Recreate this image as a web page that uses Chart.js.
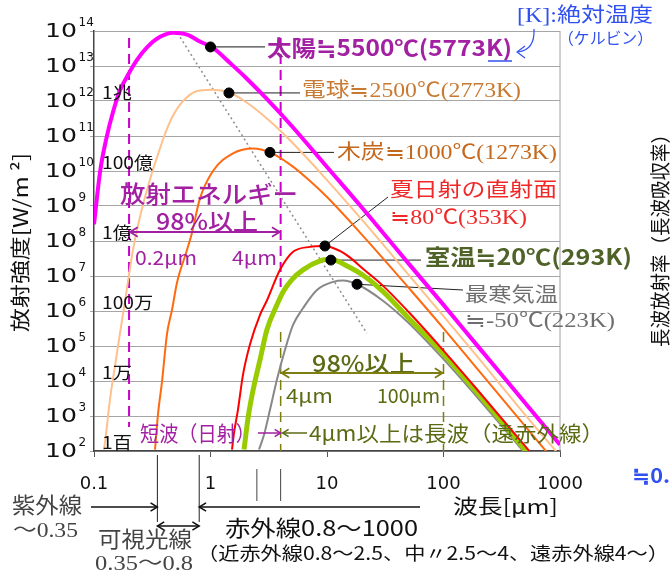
<!DOCTYPE html>
<html><head><meta charset="utf-8">
<script src="https://cdn.jsdelivr.net/npm/chart.js@4.4.1/dist/chart.umd.min.js"></script>
<style>html,body{margin:0;padding:0;background:#fff;}canvas{display:block;}</style>
</head><body>
<canvas id="c" width="670" height="570"></canvas>
<script>
// ---------------- data ----------------
const xTickValues = [0.1, 1, 10, 100, 1000];
const xTickLabels = ['0.1', '1', '10', '100', '1000'];
const yTickValues = [1e2, 1e3, 1e4, 1e5, 1e6, 1e7, 1e8, 1e9, 1e10, 1e11, 1e12, 1e13, 1e14];
const yTickExponents = ['2', '3', '4', '5', '6', '7', '8', '9', '10', '11', '12', '13', '14'];
const yWordValues = [1e12, 1e10, 1e8, 1e6, 1e4, 1e2];
const yWordLabels = ['1兆', '100億', '1億', '100万', '1万', '1百'];

const sunWavelength = [0.1, 0.113, 0.127, 0.146, 0.167, 0.196, 0.234, 0.285, 0.369, 0.477, 0.63, 0.81, 1.05, 1.5, 2, 3, 5, 10, 20, 50, 100, 200, 500, 1000];
const sunRadiance   = [3.0e8, 1.0e10, 7.9e10, 5.0e11, 2.0e12, 5.6e12, 1.5e13, 3.4e13, 6.8e13, 8.9e13, 7.9e13, 5.0e13, 3.3e13, 1.15e13, 4.7e12, 1.2e12, 1.9e11, 1.3e10, 8.9e8, 2.3e7, 1.5e6, 9.3e4, 2.4e3, 1.5e2];

const bulbWavelength = [0.122, 0.127, 0.137, 0.151, 0.167, 0.185, 0.216, 0.27, 0.39, 0.48, 0.63, 0.81, 1.05, 1.47, 2, 3, 5, 10, 20, 50, 100, 200, 500, 1000];
const bulbRadiance   = [1.1e2, 3.2e2, 2.9e3, 2.5e4, 2.3e5, 2.0e6, 5.5e7, 1.5e9, 7.8e10, 4.0e11, 1.3e12, 2.0e12, 2.1e12, 1.7e12, 9.5e11, 3.3e11, 6.6e10, 5.5e9, 4.0e8, 1.1e7, 7.1e5, 4.5e4, 1.1e3, 72];

const charcoalWavelength = [0.334, 0.354, 0.383, 0.424, 0.468, 0.515, 0.628, 0.693, 0.81, 1.05, 1.56, 2.32, 3.24, 5, 7, 10, 20, 50, 100, 200, 500, 1000];
const charcoalRadiance   = [1.1e2, 1.1e3, 9.3e3, 2.3e5, 1.1e6, 6.3e6, 5.5e7, 1.7e8, 1.6e9, 1.0e10, 3.2e10, 4.4e10, 3.4e10, 1.4e10, 5.5e9, 1.8e9, 1.5e8, 4.7e6, 3.2e5, 2.0e4, 5.2e2, 33];

const summerWavelength = [1.53, 1.59, 1.72, 1.90, 2.18, 2.66, 3.05, 3.95, 5.11, 7.14, 9.6, 12.9, 15.7, 20, 30, 50, 100, 200, 500, 1000];
const summerRadiance   = [1.1e2, 3.2e2, 1.5e3, 1.5e4, 1.1e5, 7.8e5, 2.0e6, 1.5e7, 4.9e7, 6.8e7, 7.2e7, 5.2e7, 3.4e7, 1.7e7, 5.4e6, 9.5e5, 7.4e4, 5.1e3, 1.4e2, 9];

const roomWavelength = [1.94, 2.10, 2.32, 2.66, 3.05, 3.72, 4.19, 5, 6.22, 8.71, 10.2, 11.3, 15, 20, 30, 50, 100, 200, 500, 1000];
const roomRadiance   = [1.1e2, 8.7e2, 5.5e3, 4.0e4, 2.9e5, 1.5e6, 3.5e6, 7.9e6, 1.5e7, 2.7e7, 2.95e7, 2.9e7, 1.9e7, 1.1e7, 3.7e6, 6.3e5, 5.9e4, 4.2e3, 1.1e2, 7.4];

const coldWavelength = [2.61, 2.88, 3.24, 3.72, 4.36, 5.11, 6.22, 8.2, 11.3, 13.7, 18.1, 30, 50, 100, 200, 500, 1000];
const coldRadiance   = [1.1e2, 2.9e2, 1.5e3, 1.1e4, 7.8e4, 4.0e5, 1.2e6, 4.0e6, 6.8e6, 7.4e6, 5.8e6, 2.0e6, 4.6e5, 4.2e4, 3.1e3, 87, 5.6];

const wienWavelength = [0.52, 22];
const wienRadiance   = [8.8e13, 2.3e5];

const anchorWavelength = [1.0, 1.44, 3.24, 9.6, 10.8, 18.1];
const anchorRadiance   = [3.5e13, 1.7e12, 3.4e10, 7.2e7, 2.85e7, 5.8e6];
const seriesLabels = ['太陽≒5500℃(5773K)', '電球≒2500℃(2773K)', '木炭≒1000℃(1273K)', '夏日射の直射面', '≒80℃(353K)', '室温≒20℃(293K)', '最寒気温', '≒-50℃(223K)'];

const shortWaveEdges = [0.2, 4];
const longWaveEdges = [4, 100];
const visibleEdges = [0.35, 0.8];
const midIrEdges = [2.5, 4];

// ---------------- helpers ----------------
const pts = (xs, ys) => xs.map((x, i) => ({ x: x, y: ys[i] }));
const SANS = '"Noto Sans CJK JP", "DejaVu Sans", sans-serif';
const SERIF = '"Liberation Serif", "Noto Sans CJK JP", serif';
const DIG = '"DejaVu Sans", sans-serif';

function fitText(ctx, txt, x1, x2, yc, font, color) {
  ctx.save();
  ctx.font = font; ctx.fillStyle = color; ctx.textBaseline = 'middle'; ctx.textAlign = 'left';
  const w = ctx.measureText(txt).width;
  ctx.translate(x1, yc); ctx.scale((x2 - x1) / w, 1);
  ctx.fillText(txt, 0, 0);
  ctx.restore();
}
function fitTextV(ctx, txt, xc, yBottom, yTop, font, color) {
  ctx.save();
  ctx.font = font; ctx.fillStyle = color; ctx.textBaseline = 'middle'; ctx.textAlign = 'left';
  const w = ctx.measureText(txt).width;
  ctx.translate(xc, yBottom); ctx.rotate(-Math.PI / 2); ctx.scale((yBottom - yTop) / w, 1);
  ctx.fillText(txt, 0, 0);
  ctx.restore();
}
function arrow(ctx, x1, y1, x2, y2, color, lw, hStart, hEnd, hs) {
  hs = hs || 8;
  ctx.save(); ctx.strokeStyle = color; ctx.lineWidth = lw; ctx.setLineDash([]);
  ctx.beginPath(); ctx.moveTo(x1, y1); ctx.lineTo(x2, y2); ctx.stroke();
  const a = Math.atan2(y2 - y1, x2 - x1);
  const head = (x, y, ang) => {
    ctx.beginPath();
    ctx.moveTo(x - hs * Math.cos(ang - 0.55), y - hs * Math.sin(ang - 0.55));
    ctx.lineTo(x, y);
    ctx.lineTo(x - hs * Math.cos(ang + 0.55), y - hs * Math.sin(ang + 0.55));
    ctx.stroke();
  };
  if (hEnd) head(x2, y2, a);
  if (hStart) head(x1, y1, a + Math.PI);
  ctx.restore();
}
function line(ctx, x1, y1, x2, y2, color, lw, dash) {
  ctx.save(); ctx.strokeStyle = color; ctx.lineWidth = lw; ctx.setLineDash(dash || []);
  ctx.beginPath(); ctx.moveTo(x1, y1); ctx.lineTo(x2, y2); ctx.stroke(); ctx.restore();
}

const PURPLE = '#A220A2';
const OLIVE = '#5A6B14';
const OLIVE_L = '#7D7D10';
const BLUE = '#3050F0';

const annotations = {
  id: 'annotations',
  beforeDatasetsDraw(chart) {
    const ctx = chart.ctx, xs = chart.scales.x, ys = chart.scales.y, ca = chart.chartArea;
    const X = v => xs.getPixelForValue(v), Y = v => ys.getPixelForValue(v);
    // right border
    line(ctx, ca.right, ca.top, ca.right, ca.bottom, '#A0A0A0', 1);
    // magenta dashed lines (short wave 98%)
    line(ctx, X(shortWaveEdges[0]), ca.top + 7, X(shortWaveEdges[0]), 427, '#C800C8', 2, [10, 6]);
    line(ctx, X(shortWaveEdges[1]), ca.top + 7, X(shortWaveEdges[1]), 287, '#C800C8', 2, [10, 6]);
    // olive dashed lines (long wave 98%)
    line(ctx, X(longWaveEdges[0]), 332, X(longWaveEdges[0]), ca.bottom, OLIVE_L, 1.5, [10, 6]);
    line(ctx, X(longWaveEdges[1]), 332, X(longWaveEdges[1]), ca.bottom, OLIVE_L, 1.5, [10, 6]);
    // leader lines
    const ax = anchorWavelength.map(X), ay = anchorRadiance.map(Y);
    line(ctx, ax[0], ay[0], 265, ay[0], '#444', 1.2);
    line(ctx, ax[1], ay[1], 300, ay[1], '#222', 1);
    line(ctx, ax[2], ay[2], 334, ay[2], '#222', 1);
    line(ctx, ax[3], ay[3], 388, 197, '#222', 1);
    line(ctx, ax[4], ay[4], 421, ay[4], '#222', 1);
    line(ctx, ax[5], ay[5], 463, 290, '#222', 1);
  },
  afterDraw(chart) {
    const ctx = chart.ctx, xs = chart.scales.x, ys = chart.scales.y, ca = chart.chartArea;
    const X = v => xs.getPixelForValue(v), Y = v => ys.getPixelForValue(v);
    // y tick labels 10^n
    yTickValues.forEach((v, i) => {
      const y = Y(v);
      fitText(ctx, '10', 45, 77, y + 1, '20px ' + DIG, '#111');
      ctx.save(); ctx.font = '12px ' + DIG; ctx.fillStyle = '#111'; ctx.textBaseline = 'middle';
      ctx.fillText(yTickExponents[i], 78.5, y - 8); ctx.restore();
    });
    // x tick labels
    ctx.save(); ctx.font = '18px ' + DIG; ctx.fillStyle = '#111'; ctx.textAlign = 'center'; ctx.textBaseline = 'middle';
    xTickValues.forEach((v, i) => ctx.fillText(xTickLabels[i], X(v), 484));
    ctx.restore();
    // Japanese magnitude words
    yWordValues.forEach((v, i) => {
      ctx.save(); ctx.font = '17px ' + SANS; ctx.fillStyle = '#111'; ctx.textBaseline = 'middle';
      const w = ctx.measureText(yWordLabels[i]).width;
      ctx.restore();
      fitText(ctx, yWordLabels[i], 102, 102 + w * 1.13, Y(v) - 8, '17px ' + SANS, '#111');
    });
    // axis titles
    fitTextV(ctx, '放射強度[W/m ²]', 20, 332, 153, '20px ' + SANS, '#111');
    fitTextV(ctx, '長波放射率（長波吸収率）', 660, 347, 125, '20px ' + SANS, '#111');

    // series labels
    fitText(ctx, seriesLabels[0], 267, 512, 48, 'bold 22px ' + SANS, PURPLE);
    line(ctx, 488, 61, 512, 61, BLUE, 1.5);
    fitText(ctx, seriesLabels[1], 302, 521, 92, '20px ' + SERIF, '#C87A32');
    fitText(ctx, seriesLabels[2], 337, 557, 154, '20px ' + SERIF, '#C4681E');
    fitText(ctx, seriesLabels[3], 390, 557, 192, '20px ' + SERIF, '#F02828');
    fitText(ctx, seriesLabels[4], 390, 527, 219, '20px ' + SERIF, '#F02828');
    fitText(ctx, seriesLabels[5], 425, 632, 257, 'bold 22px ' + SANS, '#4F6228');
    fitText(ctx, seriesLabels[6], 465, 558, 297, '20px ' + SERIF, '#6E6E6E');
    fitText(ctx, seriesLabels[7], 465, 615, 322, '20px ' + SERIF, '#6E6E6E');

    // [K] note
    fitText(ctx, '[K]:絶対温度', 517, 653, 17, '20px ' + SERIF, BLUE);
    fitText(ctx, '（ケルビン）', 558, 653, 40, '16px ' + SERIF, BLUE);
    ctx.save(); ctx.strokeStyle = BLUE; ctx.lineWidth = 1.2;
    ctx.beginPath(); ctx.moveTo(534, 29); ctx.quadraticCurveTo(535, 50, 518, 52); ctx.stroke();
    ctx.beginPath(); ctx.moveTo(525, 46); ctx.lineTo(517, 52); ctx.lineTo(525, 58); ctx.stroke();
    ctx.restore();

    // short-wave 98% annotation
    fitText(ctx, '放射エネルギー', 120, 298, 194, '500 24px ' + SANS, PURPLE);
    fitText(ctx, '98%以上', 156, 258, 221, '500 23px ' + SANS, PURPLE);
    arrow(ctx, X(shortWaveEdges[0]) + 1, 232, X(shortWaveEdges[1]) - 1, 232, PURPLE, 1.8, true, true, 9);
    fitText(ctx, '0.2μm', 135, 197, 258, '19px ' + SANS, PURPLE);
    fitText(ctx, '4μm', 232, 277, 258, '19px ' + SANS, PURPLE);
    fitText(ctx, '短波（日射）', 140, 255, 433, '21px ' + SANS, PURPLE);
    arrow(ctx, 258, 433, X(shortWaveEdges[1]), 433, PURPLE, 1.5, false, true, 7);

    // long-wave 98% annotation
    fitText(ctx, '98%以上', 312, 415, 363, '500 23px ' + SANS, OLIVE);
    arrow(ctx, X(longWaveEdges[0]) + 1, 373, X(longWaveEdges[1]) - 1, 373, OLIVE_L, 1.8, true, true, 9);
    fitText(ctx, '4μm', 286, 333, 396, '19px ' + SANS, OLIVE);
    fitText(ctx, '100μm', 377, 440, 396, '19px ' + SANS, OLIVE);
    arrow(ctx, 307, 433, X(longWaveEdges[0]) + 2, 433, OLIVE, 1.5, false, true, 7);
    fitText(ctx, '4μm以上は長波（遠赤外線）', 309, 604, 433, '21px ' + SANS, OLIVE);

    // below-axis band markers
    visibleEdges.forEach(v => line(ctx, X(v), 455, X(v), 522, '#222', 1));
    midIrEdges.forEach(v => line(ctx, X(v), 469, X(v), 501, '#444', 1));
    arrow(ctx, 91, 507, X(visibleEdges[0]), 507, '#111', 1.5, false, true, 8);
    arrow(ctx, 420, 507, X(visibleEdges[1]), 507, '#111', 1.5, false, true, 8);
    arrow(ctx, X(visibleEdges[0]), 526, X(visibleEdges[1]), 526, '#111', 1.5, true, true, 8);
    fitText(ctx, '紫外線', 12, 82, 507, '22px ' + SERIF, '#444');
    fitText(ctx, '〜0.35', 13, 78, 532, '20px ' + SERIF, '#444');
    fitText(ctx, '可視光線', 98, 192, 541, '22px ' + SERIF, '#444');
    fitText(ctx, '0.35〜0.8', 95, 193, 565, '20px ' + SERIF, '#444');
    fitText(ctx, '赤外線0.8〜1000', 225, 418, 528, '22px ' + SANS, '#111');
    fitText(ctx, '（近赤外線0.8〜2.5、中〃2.5〜4、遠赤外線4〜）', 197, 669, 553, '18px ' + SANS, '#111');
    fitText(ctx, '波長[μm]', 453, 558, 506, '20px ' + SANS, '#111');
    fitText(ctx, '≒0.', 632, 670, 475, 'bold 20px ' + SANS, BLUE);
  }
};

const ds = (label, xs, ys, color, width, order) => ({
  label: label, data: pts(xs, ys), showLine: true, borderColor: color, backgroundColor: color,
  borderWidth: width, pointRadius: 0, cubicInterpolationMode: 'monotone', order: order
});

new Chart(document.getElementById('c'), {
  type: 'scatter',
  data: {
    datasets: [
      { label: 'anchors', data: pts(anchorWavelength, anchorRadiance), pointRadius: 5, pointBackgroundColor: '#000', pointBorderColor: '#000', showLine: false, order: 0 },
      ds('太陽', sunWavelength, sunRadiance, '#FF00FF', 4, 1),
      ds('電球', bulbWavelength, bulbRadiance, '#FFC18C', 2, 2),
      ds('木炭', charcoalWavelength, charcoalRadiance, '#FF6A10', 2, 3),
      ds('夏日射', summerWavelength, summerRadiance, '#FF0000', 2, 5),
      ds('室温', roomWavelength, roomRadiance, '#99CC00', 5, 6),
      ds('最寒気温', coldWavelength, coldRadiance, '#888888', 2, 7),
      { label: 'wien', data: pts(wienWavelength, wienRadiance), showLine: true, borderColor: '#8C8C8C', borderWidth: 1.5, borderDash: [2, 3], pointRadius: 0, order: 8 }
    ]
  },
  options: {
    responsive: false, animation: false, devicePixelRatio: 1,
    layout: { padding: { left: 0, top: 31, right: 110, bottom: 0 } },
    plugins: { legend: { display: false }, tooltip: { enabled: false } },
    scales: {
      x: {
        type: 'logarithmic', min: 0.1, max: 1000,
        afterBuildTicks: s => { s.ticks = xTickValues.map(v => ({ value: v })); },
        afterFit: s => { s.height = 119; },
        ticks: { display: false },
        grid: { drawOnChartArea: false, drawTicks: true, tickLength: 6, color: '#555' },
        border: { color: '#444', width: 1.5 }
      },
      y: {
        type: 'logarithmic', min: 1e2, max: 1e14,
        afterBuildTicks: s => { s.ticks = yTickValues.map(v => ({ value: v })); },
        afterFit: s => { s.width = 94; },
        ticks: { display: false },
        grid: { color: '#A6A6A6', lineWidth: 1, tickLength: 4 },
        border: { color: '#444', width: 1.5 }
      }
    }
  },
  plugins: [annotations]
});
</script>
</body></html>
